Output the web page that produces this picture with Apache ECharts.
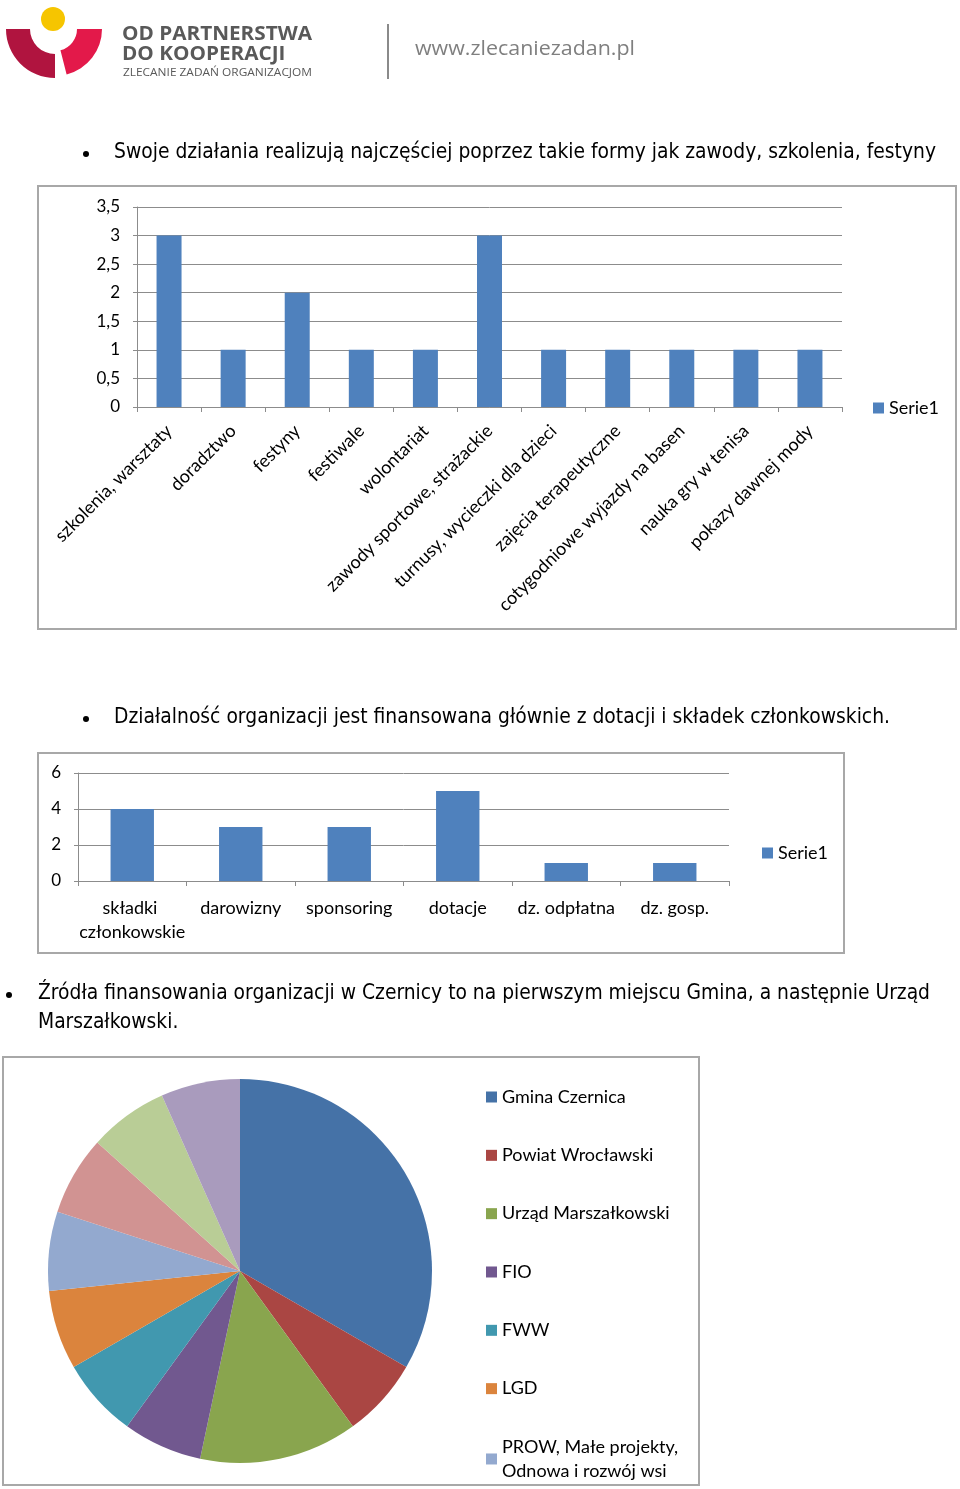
<!DOCTYPE html>
<html><head><meta charset="utf-8">
<script src="https://cdn.jsdelivr.net/npm/echarts/dist/echarts.min.js"></script>
<style>html,body{margin:0;padding:0;background:#fff}#c{width:960px;height:1489px}</style>
</head><body><div id="c"></div>
<script>
// ---- data ----
const seriesName = 'Serie1';
const activityCategories = ['szkolenia, warsztaty','doradztwo','festyny','festiwale','wolontariat','zawody sportowe, strażackie','turnusy, wycieczki dla dzieci','zajęcia terapeutyczne','cotygodniowe wyjazdy na basen','nauka gry w tenisa','pokazy dawnej mody'];
const activityValues = [3,1,2,1,1,3,1,1,1,1,1];
const fundingCategories = ['składki członkowskie','darowizny','sponsoring','dotacje','dz. odpłatna','dz. gosp.'];
const fundingValues = [4,3,3,5,1,1];
const sourceNames = ['Gmina Czernica','Powiat Wrocławski','Urząd Marszałkowski','FIO','FWW','LGD','PROW, Małe projekty, Odnowa i rozwój wsi','Inne 1','Inne 2','Inne 3'];
const sourceValues = [5,1,2,1,1,1,1,1,1,1];
const sourceLegendNames = sourceNames.slice(0,7);
const heading1 = 'Swoje działania realizują najczęściej poprzez takie formy jak zawody, szkolenia, festyny';
const heading2 = 'Działalność organizacji jest finansowana głównie z dotacji i składek członkowskich.';
const heading3a = 'Źródła finansowania organizacji w Czernicy to na pierwszym miejscu Gmina, a następnie Urząd';
const heading3b = 'Marszałkowski.';

// ---- style ----
const pieColors = ['#4572A7','#AA4643','#89A54E','#71588F','#4198AF','#DB843D','#93A9CF','#D19392','#B9CD96','#A99BBD'];
const barColor = '#4F81BD';
const gridColor = '#8c8c8c';
const chartFont = 'Lato';
const headFont = 'DejaVu Sans';

const ctx = document.createElement('canvas').getContext('2d');
function fit(text, font, target){ ctx.font = font; return target / ctx.measureText(text).width; }
const hf = '21px "' + headFont + '"';
const s1 = fit(heading1, hf, 822), s2 = fit(heading2, hf, 776), s3 = fit(heading3a, hf, 892);
const lf1 = 'bold 20px "Open Sans"', lf2 = '11px "Open Sans"', lf3 = '20px "Open Sans"';
const sl1 = fit('OD PARTNERSTWA', lf1, 190), sl2 = fit('ZLECANIE ZADAŃ ORGANIZACJOM', lf2, 189), sl3 = fit('www.zlecaniezadan.pl', lf3, 220);

function txt(t, x, y, sx, font, fill){
  return {type:'text', x:x, y:y, scaleX:sx, style:{text:t, font:font, fill:fill||'#000', verticalAlign:'middle', align:'left'}};
}
function bullet(x, y){ return {type:'circle', shape:{cx:x, cy:y, r:3}, style:{fill:'#000'}}; }
function box(x, y, w, h){ return {type:'rect', shape:{x:x, y:y, width:w, height:h}, style:{fill:'none', stroke:'#a8a8a8', lineWidth:2}}; }

const labelStyle = {fontSize:18, fontFamily:chartFont, color:'#000'};
const yLabelStyle = {fontSize:17, fontFamily:chartFont, color:'#000'};
const commaFmt = v => String(v).replace('.', ',');

// pie legend: one component per entry so rows keep Excel's even spacing
const pieLegendTop = 1080, pieLegendStep = 58.33;
const pieLegends = sourceLegendNames.map((n, i) => ({
  data:[n], left:481, top: pieLegendTop + i*pieLegendStep,
  orient:'vertical', icon:'rect', itemWidth:11, itemHeight:11, selectedMode:false,
  formatter: name => name.replace(', Odnowa', ',\nOdnowa'),
  textStyle:{fontSize:18, fontFamily:chartFont, color:'#000', lineHeight:24}
}));

const chart = echarts.init(document.getElementById('c'), null, {renderer:'canvas'});
chart.setOption({
  animation:false,
  graphic:[
    // logo
    {type:'sector', shape:{cx:55, cy:29, r:49, r0:25, startAngle:Math.PI/2, endAngle:Math.PI}, style:{fill:'#B0143F'}},
    {type:'sector', shape:{cx:55, cy:29, r:47, r0:22, startAngle:0, endAngle:Math.PI/2 - 0.25}, style:{fill:'#E3194A'}},
    {type:'circle', shape:{cx:53, cy:19, r:12}, style:{fill:'#F6C500'}},
    txt('OD PARTNERSTWA', 122, 34, sl1, lf1, '#595959'),
    txt('DO KOOPERACJI', 122, 54, sl1, lf1, '#595959'),
    txt('ZLECANIE ZADAŃ ORGANIZACJOM', 123, 73, sl2, lf2, '#595959'),
    {type:'line', shape:{x1:388, y1:24, x2:388, y2:79}, style:{stroke:'#8a8a8a', lineWidth:2}},
    txt('www.zlecaniezadan.pl', 415, 49, sl3, lf3, '#7f7f7f'),
    // headings
    bullet(86, 154), txt(heading1, 114, 153, s1, hf),
    bullet(86, 719), txt(heading2, 114, 718, s2, hf),
    bullet(9, 995), txt(heading3a, 38, 994, s3, hf), txt(heading3b, 38, 1023, s3, hf),
    // chart frames
    box(38, 186, 918, 443),
    box(38, 753, 806, 200),
    box(3, 1057, 696, 428)
  ],
  grid:[
    {left:137, top:207, width:705, height:200},
    {left:78, top:773, width:651, height:108}
  ],
  xAxis:[
    {type:'category', gridIndex:0, data:activityCategories,
     axisLine:{lineStyle:{color:gridColor}}, axisTick:{show:true, interval:0, length:5, lineStyle:{color:gridColor}},
     axisLabel:Object.assign({rotate:45, interval:0, margin:21}, labelStyle)},
    {type:'category', gridIndex:1, data:fundingCategories,
     axisLine:{lineStyle:{color:gridColor}}, axisTick:{show:true, interval:0, length:5, lineStyle:{color:gridColor}},
     axisLabel:Object.assign({interval:0, margin:15, width:130, overflow:'break', lineHeight:24}, labelStyle)}
  ],
  yAxis:[
    {type:'value', gridIndex:0, min:0, max:3.5, interval:0.5,
     axisLine:{show:true, lineStyle:{color:gridColor}}, axisTick:{show:true, length:4, lineStyle:{color:gridColor}},
     splitLine:{lineStyle:{color:gridColor}},
     axisLabel:Object.assign({margin:17, formatter:commaFmt}, yLabelStyle)},
    {type:'value', gridIndex:1, min:0, max:6, interval:2,
     axisLine:{show:true, lineStyle:{color:gridColor}}, axisTick:{show:true, length:4, lineStyle:{color:gridColor}},
     splitLine:{lineStyle:{color:gridColor}},
     axisLabel:Object.assign({margin:17}, yLabelStyle)}
  ],
  legend:[
    {data:[seriesName], left:868, top:394, orient:'vertical', icon:'rect', itemWidth:11, itemHeight:11, selectedMode:false,
     textStyle:labelStyle},
    {data:[seriesName], left:757, top:839, orient:'vertical', icon:'rect', itemWidth:11, itemHeight:11, selectedMode:false,
     textStyle:labelStyle}
  ].concat(pieLegends),
  series:[
    {type:'bar', name:seriesName, xAxisIndex:0, yAxisIndex:0, data:activityValues, barWidth:'39%', itemStyle:{color:barColor}, silent:true},
    {type:'bar', name:seriesName, xAxisIndex:1, yAxisIndex:1, data:fundingValues, barWidth:'40%', itemStyle:{color:barColor}, silent:true},
    {type:'pie', name:'Źródła', center:[240,1271], radius:192, startAngle:90, clockwise:true, silent:true,
     label:{show:false}, labelLine:{show:false},
     data:sourceNames.map((n,i) => ({name:n, value:sourceValues[i], itemStyle:{color:pieColors[i]}}))}
  ]
});
</script></body></html>
